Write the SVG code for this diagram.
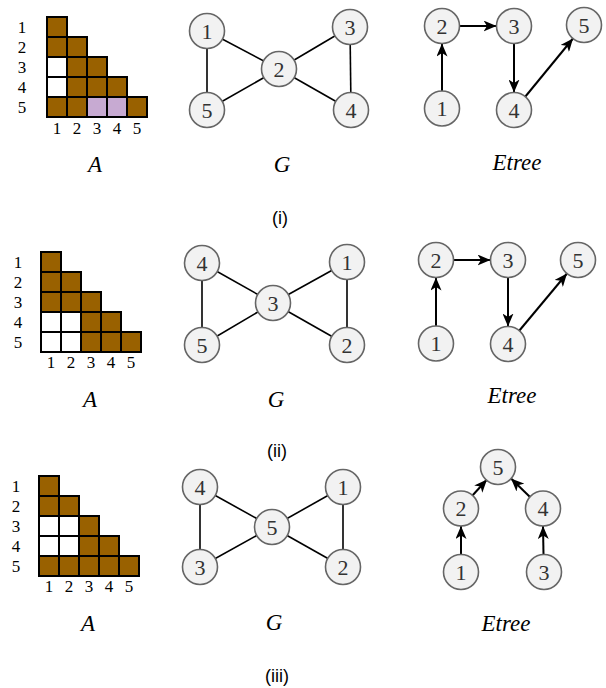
<svg xmlns="http://www.w3.org/2000/svg" width="606" height="688" viewBox="0 0 606 688">
<style>
.cell{stroke:#000;stroke-width:2}
.b{fill:#996100}
.w{fill:#fff}
.l{fill:#c7aad2}
.lab{font-family:"Liberation Serif",serif;font-size:17px;fill:#000;text-anchor:middle;dominant-baseline:central}
.cap{font-family:"Liberation Serif",serif;font-style:italic;font-size:23px;fill:#000;text-anchor:middle;dominant-baseline:central}
.sub{font-family:"Liberation Sans",sans-serif;font-size:18px;fill:#000;text-anchor:middle;dominant-baseline:central}
.nd circle{fill:#f2f2f2;stroke:#666;stroke-width:1.6}
.nd text{font-family:"Liberation Serif",serif;font-size:22px;fill:#333;text-anchor:middle;dominant-baseline:central}
.e{stroke:#000;stroke-width:1.6;fill:none}
.a{stroke:#000;stroke-width:2;fill:none;marker-end:url(#ah)}
</style>
<defs>
<marker id="ah" viewBox="0 0 13 11" refX="13" refY="5.5" markerWidth="13" markerHeight="11" markerUnits="userSpaceOnUse" orient="auto">
<path d="M0,0 L13,5.5 L0,11 L3.5,5.5 z" fill="#000"/>
</marker>
</defs>

<!-- Panel (i) matrix -->
<g id="matrix1">
<rect class="cell b" x="47" y="17" width="20" height="20"/>
<rect class="cell b" x="47" y="37" width="20" height="20"/>
<rect class="cell b" x="67" y="37" width="20" height="20"/>
<rect class="cell w" x="47" y="57" width="20" height="20"/>
<rect class="cell b" x="67" y="57" width="20" height="20"/>
<rect class="cell b" x="87" y="57" width="20" height="20"/>
<rect class="cell w" x="47" y="77" width="20" height="20"/>
<rect class="cell b" x="67" y="77" width="20" height="20"/>
<rect class="cell b" x="87" y="77" width="20" height="20"/>
<rect class="cell b" x="107" y="77" width="20" height="20"/>
<rect class="cell b" x="47" y="97" width="20" height="20"/>
<rect class="cell b" x="67" y="97" width="20" height="20"/>
<rect class="cell l" x="87" y="97" width="20" height="20"/>
<rect class="cell l" x="107" y="97" width="20" height="20"/>
<rect class="cell b" x="127" y="97" width="20" height="20"/>
<text class="lab" x="22" y="27">1</text>
<text class="lab" x="22" y="47">2</text>
<text class="lab" x="22" y="67">3</text>
<text class="lab" x="22" y="87">4</text>
<text class="lab" x="22" y="107">5</text>
<text class="lab" x="57" y="128">1</text>
<text class="lab" x="77" y="128">2</text>
<text class="lab" x="97" y="128">3</text>
<text class="lab" x="117" y="128">4</text>
<text class="lab" x="137" y="128">5</text>
<text class="cap" x="95" y="164">A</text>
</g>

<!-- Panel (ii) matrix -->
<g id="matrix2">
<rect class="cell b" x="41" y="252" width="20" height="20"/>
<rect class="cell b" x="41" y="272" width="20" height="20"/>
<rect class="cell b" x="61" y="272" width="20" height="20"/>
<rect class="cell b" x="41" y="292" width="20" height="20"/>
<rect class="cell b" x="61" y="292" width="20" height="20"/>
<rect class="cell b" x="81" y="292" width="20" height="20"/>
<rect class="cell w" x="41" y="312" width="20" height="20"/>
<rect class="cell w" x="61" y="312" width="20" height="20"/>
<rect class="cell b" x="81" y="312" width="20" height="20"/>
<rect class="cell b" x="101" y="312" width="20" height="20"/>
<rect class="cell w" x="41" y="332" width="20" height="20"/>
<rect class="cell w" x="61" y="332" width="20" height="20"/>
<rect class="cell b" x="81" y="332" width="20" height="20"/>
<rect class="cell b" x="101" y="332" width="20" height="20"/>
<rect class="cell b" x="121" y="332" width="20" height="20"/>
<text class="lab" x="18" y="262">1</text>
<text class="lab" x="18" y="282">2</text>
<text class="lab" x="18" y="302">3</text>
<text class="lab" x="18" y="322">4</text>
<text class="lab" x="18" y="342">5</text>
<text class="lab" x="51" y="362">1</text>
<text class="lab" x="71" y="362">2</text>
<text class="lab" x="91" y="362">3</text>
<text class="lab" x="111" y="362">4</text>
<text class="lab" x="131" y="362">5</text>
<text class="cap" x="90" y="399">A</text>
</g>

<!-- Panel (iii) matrix -->
<g id="matrix3">
<rect class="cell b" x="39" y="476" width="20" height="20"/>
<rect class="cell b" x="39" y="496" width="20" height="20"/>
<rect class="cell b" x="59" y="496" width="20" height="20"/>
<rect class="cell w" x="39" y="516" width="20" height="20"/>
<rect class="cell w" x="59" y="516" width="20" height="20"/>
<rect class="cell b" x="79" y="516" width="20" height="20"/>
<rect class="cell w" x="39" y="536" width="20" height="20"/>
<rect class="cell w" x="59" y="536" width="20" height="20"/>
<rect class="cell b" x="79" y="536" width="20" height="20"/>
<rect class="cell b" x="99" y="536" width="20" height="20"/>
<rect class="cell b" x="39" y="556" width="20" height="20"/>
<rect class="cell b" x="59" y="556" width="20" height="20"/>
<rect class="cell b" x="79" y="556" width="20" height="20"/>
<rect class="cell b" x="99" y="556" width="20" height="20"/>
<rect class="cell b" x="119" y="556" width="20" height="20"/>
<text class="lab" x="16" y="486">1</text>
<text class="lab" x="16" y="506">2</text>
<text class="lab" x="16" y="526">3</text>
<text class="lab" x="16" y="546">4</text>
<text class="lab" x="16" y="566">5</text>
<text class="lab" x="49" y="586">1</text>
<text class="lab" x="69" y="586">2</text>
<text class="lab" x="89" y="586">3</text>
<text class="lab" x="109" y="586">4</text>
<text class="lab" x="129" y="586">5</text>
<text class="cap" x="88" y="623">A</text>
</g>

<!-- Connectors -->
<g id="connectors">
<!-- G (i) -->
<line class="e" x1="207" y1="31" x2="207" y2="110"/>
<line class="e" x1="207" y1="31" x2="279" y2="69"/>
<line class="e" x1="207" y1="110" x2="279" y2="69"/>
<line class="e" x1="279" y1="69" x2="350" y2="27"/>
<line class="e" x1="279" y1="69" x2="351" y2="110"/>
<line class="e" x1="350" y1="27" x2="351" y2="110"/>
<!-- G (ii) -->
<line class="e" x1="202" y1="263" x2="202" y2="345"/>
<line class="e" x1="202" y1="263" x2="273" y2="303"/>
<line class="e" x1="202" y1="345" x2="273" y2="303"/>
<line class="e" x1="273" y1="303" x2="347" y2="262"/>
<line class="e" x1="273" y1="303" x2="347" y2="345"/>
<line class="e" x1="347" y1="262" x2="347" y2="345"/>
<!-- G (iii) -->
<line class="e" x1="200" y1="487" x2="200" y2="567"/>
<line class="e" x1="200" y1="487" x2="272" y2="527"/>
<line class="e" x1="200" y1="567" x2="272" y2="527"/>
<line class="e" x1="272" y1="527" x2="343" y2="487"/>
<line class="e" x1="272" y1="527" x2="343" y2="567"/>
<line class="e" x1="343" y1="487" x2="343" y2="567"/>
<!-- Etree (i) -->
<line class="a" x1="442" y1="91" x2="442" y2="43.5"/>
<line class="a" x1="459" y1="26" x2="496.5" y2="26"/>
<line class="a" x1="514" y1="43" x2="514" y2="92.5"/>
<line class="a" x1="525" y1="97" x2="573" y2="38.5"/>
<!-- Etree (ii) -->
<line class="a" x1="436" y1="326" x2="436" y2="277.5"/>
<line class="a" x1="453" y1="260" x2="490.5" y2="260"/>
<line class="a" x1="508" y1="277" x2="508" y2="326.5"/>
<line class="a" x1="519" y1="331" x2="567" y2="273.5"/>
<!-- Etree (iii) -->
<line class="a" x1="461" y1="554.5" x2="461" y2="526"/>
<line class="a" x1="543.5" y1="554.5" x2="543" y2="526"/>
<line class="a" x1="472" y1="496" x2="487" y2="479.5"/>
<line class="a" x1="530" y1="497" x2="511" y2="478.5"/>
</g>

<!-- G (i) nodes -->
<g id="g1n1" class="nd"><circle cx="207" cy="31" r="17.5"/><text x="207" y="31">1</text></g>
<g id="g1n2" class="nd"><circle cx="279" cy="69" r="17.5"/><text x="279" y="69">2</text></g>
<g id="g1n3" class="nd"><circle cx="350" cy="27" r="17.5"/><text x="350" y="27">3</text></g>
<g id="g1n4" class="nd"><circle cx="351" cy="110" r="17.5"/><text x="351" y="110">4</text></g>
<g id="g1n5" class="nd"><circle cx="207" cy="110" r="17.5"/><text x="207" y="110">5</text></g>
<text class="cap" x="282" y="164">G</text>

<!-- Etree (i) nodes -->
<g id="e1n1" class="nd"><circle cx="442" cy="108.5" r="17.5"/><text x="442" y="108.5">1</text></g>
<g id="e1n2" class="nd"><circle cx="442" cy="26" r="17.5"/><text x="442" y="26">2</text></g>
<g id="e1n3" class="nd"><circle cx="514" cy="26" r="17.5"/><text x="514" y="26">3</text></g>
<g id="e1n4" class="nd"><circle cx="514" cy="110" r="17.5"/><text x="514" y="110">4</text></g>
<g id="e1n5" class="nd"><circle cx="584" cy="25" r="17.5"/><text x="584" y="25">5</text></g>
<text class="cap" x="517" y="162">Etree</text>

<text class="sub" x="280" y="218">(i)</text>

<!-- G (ii) nodes -->
<g id="g2n4" class="nd"><circle cx="202" cy="263" r="17.5"/><text x="202" y="263">4</text></g>
<g id="g2n5" class="nd"><circle cx="202" cy="345" r="17.5"/><text x="202" y="345">5</text></g>
<g id="g2n3" class="nd"><circle cx="273" cy="303" r="17.5"/><text x="273" y="303">3</text></g>
<g id="g2n1" class="nd"><circle cx="347" cy="262" r="17.5"/><text x="347" y="262">1</text></g>
<g id="g2n2" class="nd"><circle cx="347" cy="345" r="17.5"/><text x="347" y="345">2</text></g>
<text class="cap" x="276" y="399">G</text>

<!-- Etree (ii) nodes -->
<g id="e2n1" class="nd"><circle cx="436" cy="343.5" r="17.5"/><text x="436" y="343.5">1</text></g>
<g id="e2n2" class="nd"><circle cx="436" cy="260" r="17.5"/><text x="436" y="260">2</text></g>
<g id="e2n3" class="nd"><circle cx="508" cy="260" r="17.5"/><text x="508" y="260">3</text></g>
<g id="e2n4" class="nd"><circle cx="508" cy="344" r="17.5"/><text x="508" y="344">4</text></g>
<g id="e2n5" class="nd"><circle cx="578" cy="260" r="17.5"/><text x="578" y="260">5</text></g>
<text class="cap" x="512" y="395">Etree</text>

<text class="sub" x="277" y="451">(ii)</text>

<!-- G (iii) nodes -->
<g id="g3n4" class="nd"><circle cx="200" cy="487" r="17.5"/><text x="200" y="487">4</text></g>
<g id="g3n3" class="nd"><circle cx="200" cy="567" r="17.5"/><text x="200" y="567">3</text></g>
<g id="g3n5" class="nd"><circle cx="272" cy="527" r="17.5"/><text x="272" y="527">5</text></g>
<g id="g3n1" class="nd"><circle cx="343" cy="487" r="17.5"/><text x="343" y="487">1</text></g>
<g id="g3n2" class="nd"><circle cx="343" cy="567" r="17.5"/><text x="343" y="567">2</text></g>
<text class="cap" x="274" y="622">G</text>

<!-- Etree (iii) nodes -->
<g id="e3n5" class="nd"><circle cx="498" cy="467" r="17.5"/><text x="498" y="467">5</text></g>
<g id="e3n2" class="nd"><circle cx="461" cy="508.5" r="17.5"/><text x="461" y="508.5">2</text></g>
<g id="e3n4" class="nd"><circle cx="543" cy="508.5" r="17.5"/><text x="543" y="508.5">4</text></g>
<g id="e3n1" class="nd"><circle cx="461" cy="572" r="17.5"/><text x="461" y="572">1</text></g>
<g id="e3n3" class="nd"><circle cx="544" cy="572" r="17.5"/><text x="544" y="572">3</text></g>
<text class="cap" x="506" y="623">Etree</text>

<text class="sub" x="277" y="676">(iii)</text>
</svg>
